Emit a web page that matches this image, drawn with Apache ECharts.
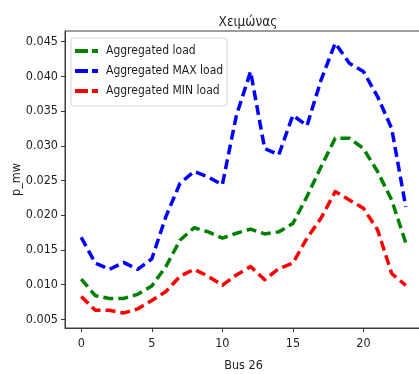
<!DOCTYPE html>
<html>
<head>
<meta charset="utf-8">
<script src="https://cdn.jsdelivr.net/npm/echarts@6/dist/echarts.min.js"></script>
<style>
  html, body { margin: 0; padding: 0; background: #fff; }
  #chart { width: 419px; height: 374px; }
</style>
</head>
<body>
<div id="chart"></div>
<script>
// Hourly load profile for bus 26 (winter)
const hours = [0, 1, 2, 3, 4, 5, 6, 7, 8, 9, 10, 11, 12, 13, 14, 15, 16, 17, 18, 19, 20, 21, 22, 23];
const aggLoad = [0.0108, 0.0084, 0.0080, 0.0080, 0.0086, 0.0098, 0.0126, 0.0164, 0.0182, 0.0176, 0.0167, 0.0174, 0.0180, 0.0173, 0.0176, 0.0188, 0.0227, 0.0270, 0.0311, 0.0311, 0.0296, 0.0263, 0.0222, 0.0160];
const maxLoad = [0.0168, 0.0131, 0.0122, 0.0132, 0.0122, 0.0137, 0.0198, 0.0246, 0.0263, 0.0255, 0.0244, 0.0344, 0.0407, 0.0296, 0.0287, 0.0344, 0.0329, 0.0395, 0.0448, 0.0419, 0.0407, 0.0371, 0.0325, 0.0212];
const minLoad = [0.0083, 0.0063, 0.0063, 0.0059, 0.0065, 0.0077, 0.0090, 0.0112, 0.0122, 0.0112, 0.0099, 0.0114, 0.0126, 0.0107, 0.0123, 0.0131, 0.0167, 0.0196, 0.0234, 0.0222, 0.0210, 0.0179, 0.0116, 0.0099];
const xTicks = [0, 5, 10, 15, 20];
const yTicks = [0.005, 0.010, 0.015, 0.020, 0.025, 0.030, 0.035, 0.040, 0.045];

const FONT = "'DejaVu Sans Condensed', 'DejaVu Sans', sans-serif";
const TEXT = '#1e1e1e';
const AXIS = '#3a3a3a';
// legend key: a long dash followed by a short one
const DASH_ICON = 'path://M0,0H13V4H0Z M17,0H23V4H17Z';

function pairs(values) {
  return hours.map((h, i) => [h, values[i]]);
}

function dashedLine(name, color, values) {
  return {
    name: name,
    type: 'line',
    data: pairs(values),
    showSymbol: false,
    symbol: 'none',
    smooth: false,
    lineStyle: { color: color, width: 3.5, type: [10, 5], cap: 'butt', join: 'round' },
    itemStyle: { color: color },
    emphasis: { disabled: true },
    animation: false
  };
}

const chart = echarts.init(document.getElementById('chart'), null, { renderer: 'canvas' });

chart.setOption({
  backgroundColor: '#ffffff',
  animation: false,
  textStyle: { fontFamily: FONT },
  title: {
    text: 'Χειμώνας',
    left: 243,
    top: 10,
    textAlign: 'center',
    textStyle: { fontFamily: FONT, fontSize: 13.5, fontWeight: 'normal', color: TEXT }
  },
  legend: {
    orient: 'vertical',
    left: 71,
    top: 38,
    padding: [7, 4, 9, 4],
    itemGap: 8,
    itemWidth: 23,
    itemHeight: 4,
    icon: DASH_ICON,
    backgroundColor: 'rgba(255,255,255,0.85)',
    borderColor: '#d4d4d4',
    borderWidth: 1,
    borderRadius: 3,
    textStyle: { fontFamily: FONT, fontSize: 12, color: TEXT, padding: [0, 0, 0, 3] },
    data: ['Aggregated load', 'Aggregated MAX load', 'Aggregated MIN load']
  },
  grid: {
    left: 65,
    top: 31,
    right: -3,
    bottom: 46,
    containLabel: false,
    outerBoundsMode: 'none',
    show: true,
    borderColor: AXIS,
    borderWidth: 1,
    backgroundColor: 'transparent'
  },
  xAxis: {
    type: 'value',
    min: -1.15,
    max: 24.15,
    name: 'Bus 26',
    nameLocation: 'middle',
    nameGap: 31,
    nameMoveOverlap: false,
    nameTextStyle: { fontFamily: FONT, fontSize: 12.5, color: TEXT },
    splitLine: { show: false },
    axisLine: { show: true, onZero: false, lineStyle: { color: AXIS, width: 1 } },
    axisTick: { show: true, inside: false, length: 4, lineStyle: { color: AXIS }, customValues: xTicks },
    axisLabel: { fontFamily: FONT, fontSize: 12.5, color: TEXT, margin: 9, customValues: xTicks }
  },
  yAxis: {
    type: 'value',
    min: 0.00375,
    max: 0.04654,
    name: 'p_mw',
    nameLocation: 'middle',
    nameRotate: 90,
    nameGap: 42,
    nameMoveOverlap: false,
    nameTextStyle: { fontFamily: FONT, fontSize: 12.5, color: TEXT },
    splitLine: { show: false },
    axisLine: { show: true, onZero: false, lineStyle: { color: AXIS, width: 1 } },
    axisTick: { show: true, inside: false, length: 4, lineStyle: { color: AXIS }, customValues: yTicks },
    axisLabel: {
      fontFamily: FONT, fontSize: 12.5, color: TEXT, margin: 7,
      customValues: yTicks,
      formatter: v => v.toFixed(3)
    }
  },
  series: [
    dashedLine('Aggregated load', '#008000', aggLoad),
    dashedLine('Aggregated MAX load', '#0000ff', maxLoad),
    dashedLine('Aggregated MIN load', '#ff0000', minLoad)
  ]
});
</script>
</body>
</html>
